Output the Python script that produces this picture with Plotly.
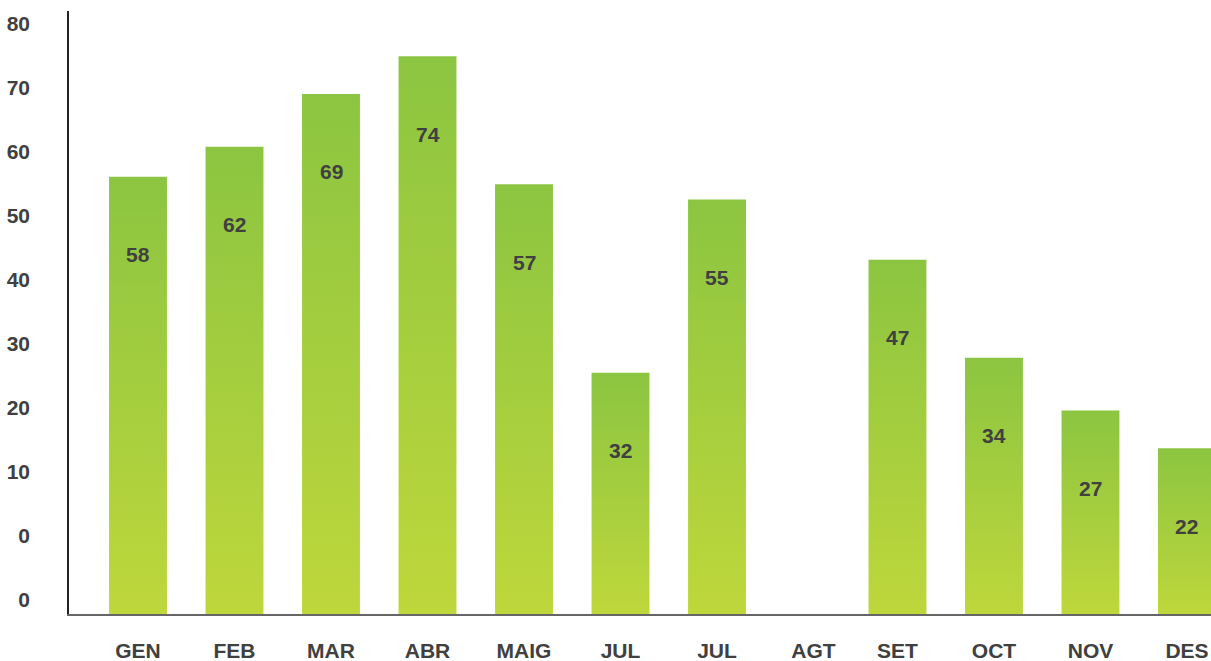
import plotly.graph_objects as go

months = ["GEN", "FEB", "MAR", "ABR", "MAIG", "JUL", "JUL", "AGT", "SET", "OCT", "NOV", "DES"]
values = [58, 62, 69, 74, 57, 32, 55, None, 47, 34, 27, 22]
y_tick_text = ["80", "70", "60", "50", "40", "30", "20", "10", "0", "0"]

# layout constants
slot_pos = [0, 1, 2, 3, 4, 5, 6, 7, 7.87, 8.87, 9.87, 10.87]
bar_w = 0.60
y_tick_vals = [78.27 - 8.48 * i for i in range(len(y_tick_text))]
TOP = "#8cc541"
BOTTOM = "#bed73b"
TXT = "#404040"
FONT = "Liberation Sans, Arial, Helvetica, sans-serif"
FS = 21

fig = go.Figure()
for p, v in zip(slot_pos, values):
    if v is None:
        continue
    x0, x1 = p - bar_w / 2, p + bar_w / 2
    fig.add_trace(go.Scatter(
        x=[x0, x1, x1, x0, x0], y=[0, 0, v, v, 0],
        mode="lines", line=dict(width=0), fill="toself",
        fillgradient=dict(type="vertical", colorscale=[[0, BOTTOM], [1, TOP]]),
        hoverinfo="skip", showlegend=False,
    ))
    fig.add_annotation(x=p, y=v, text=str(v), showarrow=False, yanchor="middle",
                       yshift=-78, font=dict(family=FONT, size=FS, color=TXT, weight="bold"))

fig.update_layout(
    width=1211, height=661,
    margin=dict(l=69, r=0, t=11, b=47),
    paper_bgcolor="white", plot_bgcolor="white",
    xaxis=dict(range=[-0.715, 11.119], tickvals=slot_pos, ticktext=months,
               showgrid=False, zeroline=False, showline=True, linecolor="#666666", linewidth=2,
               ticks="", ticklabelstandoff=17, automargin=False,
               tickfont=dict(family=FONT, size=FS, color=TXT, weight="bold")),
    yaxis=dict(range=[0, 80], tickvals=y_tick_vals, ticktext=y_tick_text,
               showgrid=False, zeroline=False, showline=True, linecolor="#222222", linewidth=1.5,
               ticks="", ticklabelstandoff=33, automargin=False,
               tickfont=dict(family=FONT, size=FS, color=TXT, weight="bold")),
)
fig.write_html("out.html", config={"displayModeBar": False},
               post_script="document.body.style.margin='0';document.body.style.overflow='hidden';")
